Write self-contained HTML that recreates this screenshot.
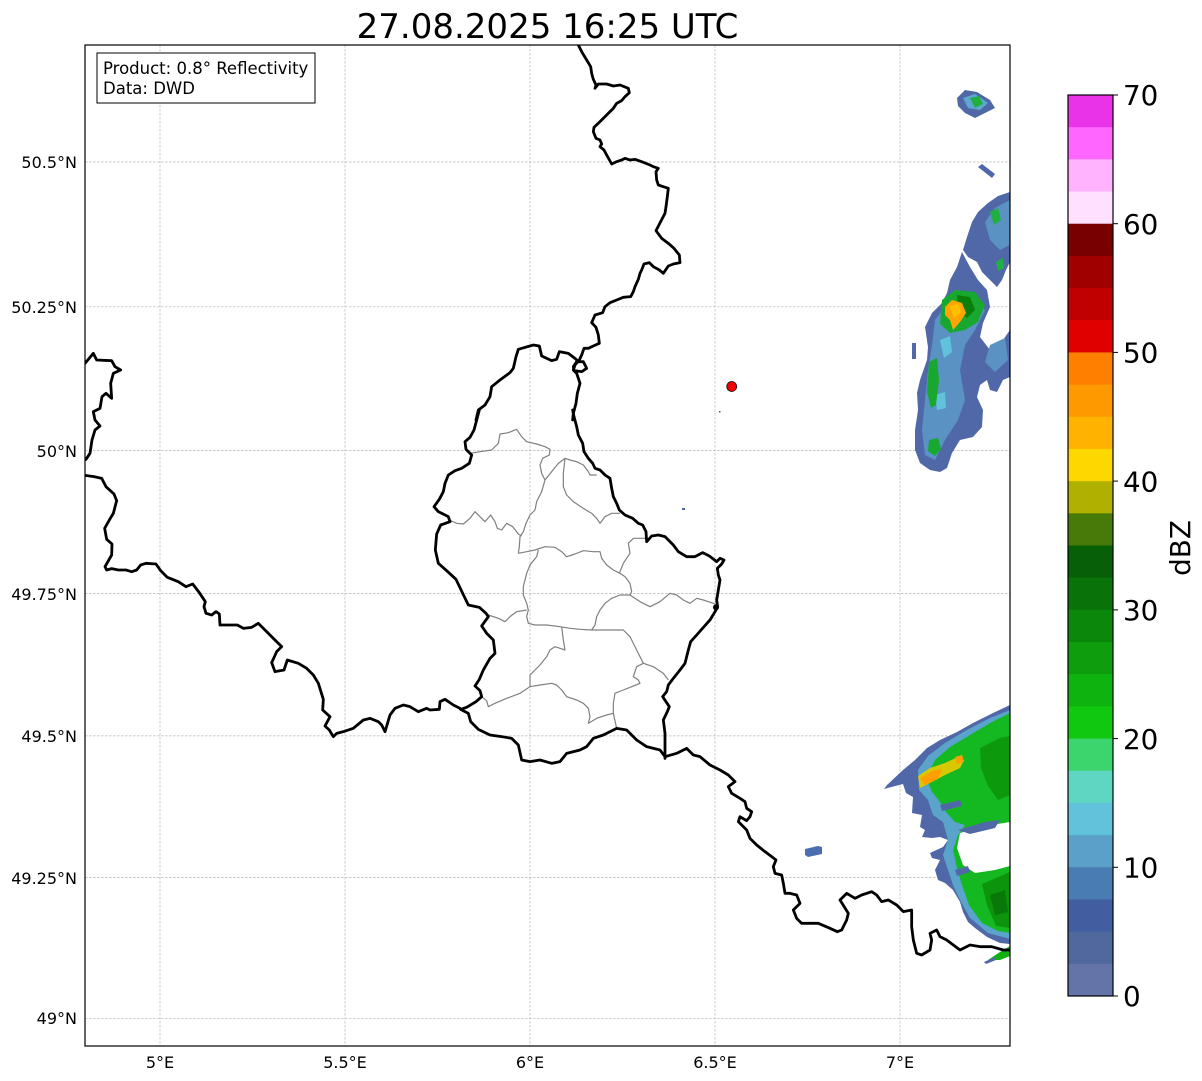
<!DOCTYPE html>
<html><head><meta charset="utf-8"><style>
html,body{margin:0;padding:0;background:#fff;}
svg{display:block;}
.b{fill:none;stroke:#000;stroke-width:2.8;stroke-linejoin:round;stroke-linecap:round;vector-effect:non-scaling-stroke;}
.g{fill:none;stroke:#808080;stroke-width:1.2;stroke-linejoin:round;vector-effect:non-scaling-stroke;}
.grid{stroke:#b8b8b8;stroke-width:0.7;stroke-dasharray:2.6,1.4;fill:none;}
text{font-family:"DejaVu Sans","Liberation Sans",sans-serif;fill:#000;}
</style></head><body>
<svg width="1202" height="1081" viewBox="0 0 1202 1081" xmlns="http://www.w3.org/2000/svg">
<defs><clipPath id="ax"><rect x="85" y="45" width="925" height="1001"/></clipPath></defs>
<rect width="1202" height="1081" fill="#fff"/>
<g clip-path="url(#ax)">
<!-- grid -->
<g class="grid">
<line x1="160" y1="45" x2="160" y2="1046"/><line x1="345" y1="45" x2="345" y2="1046"/><line x1="530" y1="45" x2="530" y2="1046"/><line x1="715" y1="45" x2="715" y2="1046"/><line x1="900" y1="45" x2="900" y2="1046"/>
<line x1="85" y1="162" x2="1010" y2="162"/><line x1="85" y1="306.8" x2="1010" y2="306.8"/><line x1="85" y1="450.6" x2="1010" y2="450.6"/><line x1="85" y1="593.6" x2="1010" y2="593.6"/><line x1="85" y1="735.9" x2="1010" y2="735.9"/><line x1="85" y1="877.5" x2="1010" y2="877.5"/><line x1="85" y1="1018.3" x2="1010" y2="1018.3"/>
</g>
<!-- radar north -->
<polygon fill="#5068a8" points="957,98 965,90 977,92 990,100 995,108 985,113 975,118 965,113 958,106"/>
<polygon fill="#5ea8d0" points="963,98 975,94 988,103 980,110 968,108"/>
<polygon fill="#20b040" points="970,98 979,96 983,104 975,108"/>
<polygon fill="#5068a8" points="978,167 982,164 995,174 992,178"/>
<polygon fill="#5068a8" points="1010,192 998,196 988,203 978,212 972,222 967,237 963,250 968,257 977,262 982,272 990,280 997,287 1002,280 1006,270 1010,262"/>
<polygon fill="#5a92c4" points="1010,200 995,208 985,222 990,240 1000,250 1010,245"/>
<polygon fill="#20b040" points="990,212 998,208 1001,220 994,225"/>
<polygon fill="#20b040" points="996,262 1003,258 1004,268 998,271"/>
<polygon fill="#5068a8" points="962,252 970,267 978,280 987,290 990,307 983,323 980,337 990,350 1003,340 1010,330 1010,377 1003,380 997,392 990,390 987,380 980,385 977,397 983,410 982,427 973,437 960,440 952,453 947,468 940,472 930,470 920,463 915,450 915,430 918,410 917,393 920,380 927,360 928,347 925,327 932,313 942,303 947,293 950,280 957,267"/>
<polygon fill="#5a92c4" points="935,320 950,300 975,295 985,310 975,330 965,345 960,370 965,400 958,420 945,440 935,460 925,455 922,430 925,400 928,370 932,345"/>
<polygon fill="#5a92c4" points="990,345 1005,338 1008,360 995,372 985,362"/>
<polygon fill="#62c2dc" points="940,340 950,336 952,352 944,358"/>
<polygon fill="#62c2dc" points="935,395 945,392 946,408 937,410"/>
<polygon fill="#18a830" points="942,300 955,290 975,292 985,305 978,322 965,330 950,333 940,324"/>
<polygon fill="#18a830" points="929,362 937,358 939,380 936,405 931,408 927,392"/>
<polygon fill="#18a830" points="929,440 938,438 941,449 935,456 928,451"/>
<polygon fill="#0a800a" points="957,295 970,297 975,310 967,318 958,311"/>
<polygon fill="#ffa500" points="945,307 952,300 962,303 966,313 960,322 953,330 950,320 945,315"/>
<polygon fill="#ffc000" points="950,306 958,304 961,312 954,318"/>
<rect x="912" y="343" width="4" height="16" fill="#5068a8"/>
<!-- radar south -->
<polygon fill="#5068a8" points="1010,705 993,713 973,723 957,732 940,740 927,748 915,760 903,770 887,785 884,789 903,784 906,793 913,797 912,813 922,815 920,827 925,830 922,837 932,838 940,837 948,840 943,847 930,853 932,858 940,860 935,870 938,880 945,883 953,890 960,902 963,912 968,922 975,928 987,937 1000,943 1010,944"/>
<polygon fill="#5aa4cc" points="1010,710 990,718 965,731 945,743 928,756 918,770 919,790 928,800 933,815 943,822 948,840 943,855 948,870 953,885 960,900 970,918 988,933 1010,939"/>
<polygon fill="#14b820" points="1010,713 992,722 970,735 950,747 935,760 926,778 932,792 940,802 946,812 955,822 965,825 958,835 953,850 957,868 962,885 969,905 982,923 998,931 1010,933"/>
<polygon fill="#0c9a0c" points="980,748 1000,738 1010,736 1010,795 998,800 988,786 981,768"/>
<polygon fill="#0c940c" points="982,884 1010,872 1010,928 996,926 987,905"/>
<polygon fill="#087808" points="990,895 1005,890 1008,912 995,915"/>
<polygon fill="#fff" points="960,833 985,826 1010,822 1010,866 995,870 975,873 963,865 957,848"/>
<polygon fill="#5068a8" points="958,830 985,822 1000,820 995,828 970,834"/>
<polygon fill="#5068a8" points="940,805 960,800 962,806 942,811"/>
<polygon fill="#5068a8" points="955,870 968,866 970,872 957,876"/>
<polygon fill="#d8c800" points="918,776 930,768 945,763 958,757 964,760 960,768 945,775 932,782 920,788"/>
<polygon fill="#ffa000" points="920,778 932,771 942,769 938,779 925,785"/>
<polygon fill="#ffa000" points="955,757 962,755 964,762 957,764"/>
<polygon fill="#10b010" points="988,960 1000,952 1010,946 1010,956 1000,960"/>
<polygon fill="#5068a8" points="984,962 995,957 996,960 986,964"/>
<polygon fill="#4a6eb0" points="805,849 818,846 822,847 822,854 808,857 805,855"/>
<rect x="682" y="508" width="3" height="2" fill="#5068a8"/>
<rect x="719" y="411" width="1.5" height="1.5" fill="#555"/>
<!-- canton lines (zoom8 coords) -->
<g transform="translate(420,410) scale(0.33333)">
<path class="g" d="M150,130 L180,125 L215,120 L235,100 L240,72 L265,68 L290,58 L305,80 L320,95 L350,102 L375,110 L390,118 L388,135 L368,145 L360,165 L365,190 L375,210"/>
<path class="g" d="M375,210 L395,185 L415,160 L435,145 L450,150 L470,155 L490,165 L505,185 L510,195 L530,195"/>
<path class="g" d="M435,145 L430,190 L430,230 L440,255 L460,275 L490,295 L515,310 L530,325 L540,340 L555,320 L575,310 L600,310"/>
<path class="g" d="M375,210 L365,245 L350,275 L345,300 L330,315 L318,340 L310,365 L300,380 L298,410 L295,430"/>
<path class="g" d="M88,330 L110,340 L130,342 L150,325 L165,305 L180,320 L195,335 L212,315 L225,335 L232,355 L245,360 L260,340 L278,350 L295,372 L305,378"/>
<path class="g" d="M295,430 L320,425 L345,420 L375,410 L405,412 L425,425 L440,440 L465,432 L490,422 L520,425 L540,425 L545,445 L560,465 L580,480 L600,490 L615,500 L630,520 L635,545 L630,555"/>
<path class="g" d="M680,385 L640,385 L625,400 L630,430 L610,460 L598,490"/>
<path class="g" d="M630,555 L660,575 L690,590 L720,575 L750,550 L770,555 L790,570 L810,580 L830,565 L850,570 L880,580 L895,590"/>
<path class="g" d="M630,555 L600,555 L575,565 L555,580 L540,600 L530,620 L525,645 L515,660"/>
<path class="g" d="M355,420 L350,440 L330,465 L320,490 L310,530 L310,555 L320,580 L325,600 L320,620 L325,640 L345,645 L380,645 L420,650 L450,655 L480,658 L515,660 L560,660 L610,660 L630,680 L650,720 L670,760 L700,770 L730,790 L745,810"/>
<path class="g" d="M320,600 L290,605 L270,620 L255,635 L235,625 L205,615"/>
<path class="g" d="M425,650 L430,690 L435,720 L420,715 L405,710 L390,720 L380,740 L360,765 L345,780 L330,795 L330,830"/>
<path class="g" d="M185,860 L200,872 L205,890 L225,880 L260,865 L300,850 L330,830 L360,825 L395,820 L410,825 L425,840 L440,860 L470,870 L490,880 L505,895 L510,920 L505,940 L530,925 L560,915 L580,910 L590,955"/>
<path class="g" d="M670,760 L650,770 L640,800 L655,810 L660,820 L635,830 L610,840 L585,850 L580,880 L580,910"/>
</g>
<!-- borders zoom7 coords -->
<g transform="translate(420,40) scale(0.33333)">
<path class="b" d="M475,15 L485,35 L500,60 L512,80 L515,100 L520,118 L528,135 L525,145 L535,132 L560,132 L580,138 L600,135 L625,145 L628,158 L615,170 L605,182 L590,190 L580,205 L570,215 L555,230 L540,245 L522,262 L520,275 L528,295 L540,300 L545,312 L540,320 L552,330 L560,345 L575,372 L590,365 L605,360 L615,355 L630,360 L645,358 L665,365 L690,375 L700,380 L715,385 L708,395 L710,420 L715,435 L730,440 L745,445 L742,470 L738,500 L735,520 L722,545 L708,572 L725,595 L745,610 L762,625 L778,645 L780,668 L760,672 L745,678 L730,700 L718,690 L700,680 L688,668 L672,672 L665,690 L660,700 L655,718 L645,740 L640,755 L632,770 L610,772 L590,780 L570,788 L555,800 L548,818 L525,825 L515,848 L528,862 L535,885 L538,910 L520,918 L505,925 L492,925 L485,945 L478,960 L465,975 L460,990 L470,1000 L480,1030 L472,1060 L468,1090 L460,1120 L458,1140"/>
<path class="b" d="M470,965 L490,965 L500,985 L485,995 L462,992 L460,980 Z"/>
<path class="b" d="M475,965 L465,955 L445,940 L418,935 L410,958 L395,962 L365,948 L358,918 L340,915 L295,928 L288,950 L280,985 L270,998 L240,1020 L215,1040 L210,1070 L195,1095 L175,1110 L168,1140"/>
</g>
<!-- borders zoom8 coords -->
<g transform="translate(420,410) scale(0.33333)">
<path class="b" d="M458,0 L462,20 L470,50 L475,75 L488,100 L492,125 L505,145 L518,160 L525,175 L540,180 L555,195 L570,205 L575,235 L580,260 L590,280 L598,300 L615,315 L638,325 L655,340 L668,345 L678,365 L680,395 L695,378 L715,375 L735,380 L760,405 L775,425 L800,440 L825,440 L848,428 L868,438 L890,455 L900,445 L912,450 L905,462 L892,475 L895,495 L900,510 L895,540 L890,570 L893,590 L885,605 L870,630 L852,650 L830,675 L812,695 L805,720 L795,760 L780,780 L760,805 L745,825 L740,845 L728,860 L740,878 L748,890 L742,905 L730,930 L735,970 L735,1010 L735,1045"/>
<circle cx="888" cy="592" r="9" fill="#000"/>
<path class="b" d="M178,0 L170,30 L162,60 L150,82 L135,95 L138,118 L155,135 L148,160 L125,175 L105,182 L85,195 L75,220 L70,245 L58,268 L42,290 L55,305 L85,320 L90,335 L62,345 L50,372 L46,420 L55,460 L80,482 L108,508 L128,550 L145,585 L178,592 L198,610 L205,620 L185,648 L200,670 L220,690 L225,730 L210,745 L190,780 L178,808 L165,828 L180,842 L185,860 L168,875 L140,892 L122,898"/>
<path class="b" d="M122,898 L145,910 L152,935 L175,958 L210,975 L245,980 L275,985 L295,1005 L305,1050 L330,1055 L360,1050 L395,1060 L420,1055 L440,1030 L480,1020 L500,1010 L520,985 L550,975 L590,955 L620,960 L650,990 L680,1010 L720,1020 L735,1040"/>
</g>
<!-- borders zoom9 coords -->
<g transform="translate(80,340) scale(0.33333)">
<path class="b" d="M1140,1105 L1120,1095 L1095,1078 L1080,1085 L1078,1108 L1050,1110 L1040,1105 L1015,1115 L990,1100 L970,1095 L945,1105 L930,1125 L915,1175 L905,1155 L895,1145 L870,1135 L850,1140 L820,1165 L790,1175 L770,1180 L760,1190 L748,1170 L735,1158 L750,1130 L728,1110 L730,1078 L715,1030 L700,1005 L680,985 L655,970 L622,960 L612,990 L585,995 L575,968 L590,935 L605,920 L580,895 L555,870 L535,850 L515,862 L490,865 L472,855 L440,855 L420,855 L418,822 L408,815 L395,825 L378,820 L372,800 L376,785 L358,758 L338,732 L318,740 L295,725 L262,712 L242,692 L228,672 L198,670 L182,675 L170,690 L155,695 L138,690 L115,690 L95,686 L80,690 L75,680 L95,645 L96,612 L80,598 L74,565 L88,540 L100,520 L110,482 L102,462 L78,440 L65,415 L42,410 L0,404"/>
<path class="b" d="M0,78 L15,70 L40,40 L50,60 L95,62 L105,80 L122,90 L100,100 L92,130 L95,175 L78,160 L66,170 L60,205 L40,215 L45,240 L60,258 L45,270 L36,300 L30,340 L18,358 L0,365"/>
</g>
<!-- borders zoom10 coords -->
<g transform="translate(600,720) scale(0.33333)">
<path class="b" d="M195,110 L230,100 L260,85 L280,105 L300,110 L330,135 L360,150 L385,165 L405,185 L385,200 L395,220 L420,235 L435,245 L440,265 L455,275 L450,290 L440,302 L420,290 L415,305 L440,330 L450,355 L470,375 L495,395 L515,410 L528,420 L520,440 L525,460 L545,465 L550,490 L555,520 L570,520 L590,525 L600,550 L580,570 L590,595 L605,610 L630,610 L655,610 L690,625 L712,635 L725,630 L740,600 L745,580 L720,540 L740,520 L765,535 L785,525 L815,515 L830,525 L845,545 L865,540 L890,555 L910,575 L935,570 L935,620 L940,660 L950,700 L965,705 L990,690 L995,660 L990,640 L1010,630 L1020,650 L1040,660 L1060,675 L1080,690 L1110,675 L1140,680 L1175,680 L1210,690 L1240,690"/>
</g>
<circle cx="731.7" cy="386.5" r="5" fill="#f00000" stroke="#000" stroke-width="0.7"/>
</g>
<!-- axes frame -->
<rect x="85" y="45" width="925" height="1001" fill="none" stroke="#000" stroke-width="1.2"/>
<!-- info box -->
<rect x="97" y="53" width="218" height="50" fill="#fff" stroke="#000" stroke-width="1"/>
<text x="103" y="74" font-size="16.5">Product: 0.8° Reflectivity</text>
<text x="103" y="94" font-size="16.5">Data: DWD</text>
<!-- title -->
<text x="547.5" y="38" font-size="34" text-anchor="middle">27.08.2025 16:25 UTC</text>
<!-- y labels -->
<g font-size="16" text-anchor="end">
<text x="77" y="168">50.5°N</text>
<text x="77" y="313">50.25°N</text>
<text x="77" y="457">50°N</text>
<text x="77" y="600">49.75°N</text>
<text x="77" y="742">49.5°N</text>
<text x="77" y="884">49.25°N</text>
<text x="77" y="1024">49°N</text>
</g>
<g font-size="16" text-anchor="middle">
<text x="160" y="1068">5°E</text>
<text x="345" y="1068">5.5°E</text>
<text x="530" y="1068">6°E</text>
<text x="715" y="1068">6.5°E</text>
<text x="900" y="1068">7°E</text>
</g>
<!-- colorbar -->
<g>
<rect x="1068" y="95.00" width="45" height="32.6" fill="#e933e9"/>
<rect x="1068" y="127.18" width="45" height="32.6" fill="#ff66ff"/>
<rect x="1068" y="159.36" width="45" height="32.6" fill="#ffb3ff"/>
<rect x="1068" y="191.54" width="45" height="32.6" fill="#ffe0ff"/>
<rect x="1068" y="223.71" width="45" height="32.6" fill="#780000"/>
<rect x="1068" y="255.89" width="45" height="32.6" fill="#a00000"/>
<rect x="1068" y="288.07" width="45" height="32.6" fill="#c00000"/>
<rect x="1068" y="320.25" width="45" height="32.6" fill="#e00000"/>
<rect x="1068" y="352.43" width="45" height="32.6" fill="#ff8000"/>
<rect x="1068" y="384.61" width="45" height="32.6" fill="#ff9900"/>
<rect x="1068" y="416.79" width="45" height="32.6" fill="#ffb300"/>
<rect x="1068" y="448.96" width="45" height="32.6" fill="#ffd700"/>
<rect x="1068" y="481.14" width="45" height="32.6" fill="#b0b000"/>
<rect x="1068" y="513.32" width="45" height="32.6" fill="#477a08"/>
<rect x="1068" y="545.50" width="45" height="32.6" fill="#075f07"/>
<rect x="1068" y="577.68" width="45" height="32.6" fill="#097309"/>
<rect x="1068" y="609.86" width="45" height="32.6" fill="#0b880b"/>
<rect x="1068" y="642.04" width="45" height="32.6" fill="#0d9d0d"/>
<rect x="1068" y="674.21" width="45" height="32.6" fill="#0fb30f"/>
<rect x="1068" y="706.39" width="45" height="32.6" fill="#10c810"/>
<rect x="1068" y="738.57" width="45" height="32.6" fill="#3cd46c"/>
<rect x="1068" y="770.75" width="45" height="32.6" fill="#5fd6c2"/>
<rect x="1068" y="802.93" width="45" height="32.6" fill="#62c2dc"/>
<rect x="1068" y="835.11" width="45" height="32.6" fill="#5aa0c8"/>
<rect x="1068" y="867.29" width="45" height="32.6" fill="#4a7cb4"/>
<rect x="1068" y="899.46" width="45" height="32.6" fill="#425ea0"/>
<rect x="1068" y="931.64" width="45" height="32.6" fill="#51689e"/>
<rect x="1068" y="963.82" width="45" height="32.18" fill="#6474a8"/>
<rect x="1068" y="95" width="45" height="901" fill="none" stroke="#000" stroke-width="1.2"/>
<g stroke="#000" stroke-width="1">
<line x1="1113" y1="996" x2="1118" y2="996"/><line x1="1113" y1="867.3" x2="1118" y2="867.3"/><line x1="1113" y1="738.6" x2="1118" y2="738.6"/><line x1="1113" y1="609.9" x2="1118" y2="609.9"/><line x1="1113" y1="481.1" x2="1118" y2="481.1"/><line x1="1113" y1="352.4" x2="1118" y2="352.4"/><line x1="1113" y1="223.7" x2="1118" y2="223.7"/><line x1="1113" y1="95" x2="1118" y2="95"/>
</g>
<g font-size="27.8">
<text x="1123" y="1006">0</text>
<text x="1123" y="877.5">10</text>
<text x="1123" y="748.8">20</text>
<text x="1123" y="620">30</text>
<text x="1123" y="491.3">40</text>
<text x="1123" y="362.6">50</text>
<text x="1123" y="233.9">60</text>
<text x="1123" y="105.2">70</text>
</g>
<text x="0" y="0" font-size="27.8" text-anchor="middle" transform="translate(1190,548) rotate(-90)">dBZ</text>
</g>
</svg>
</body></html>
